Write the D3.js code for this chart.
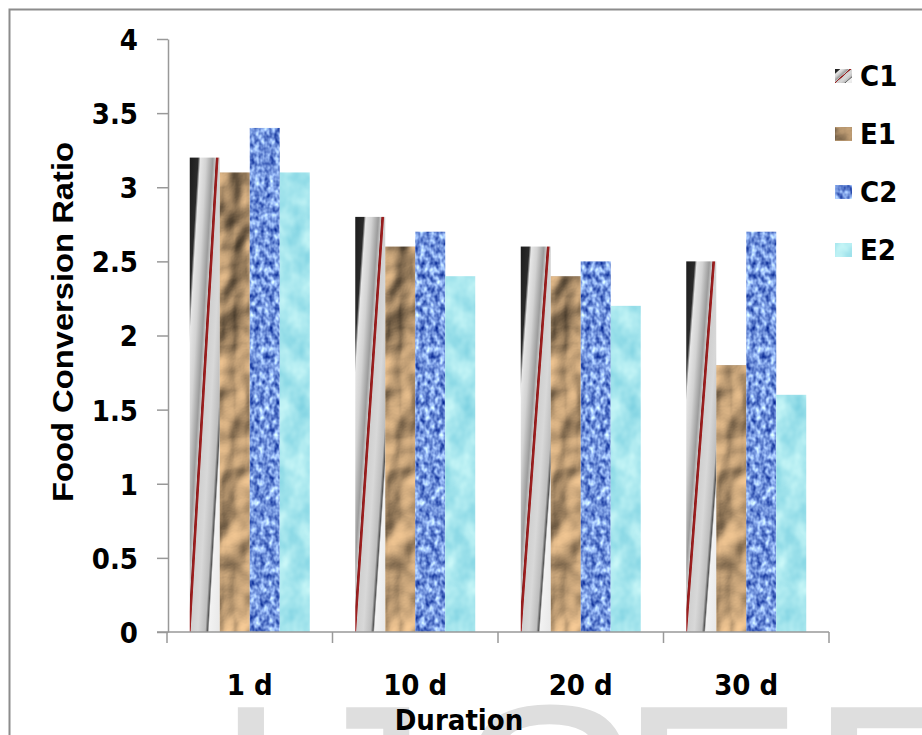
<!DOCTYPE html>
<meta charset="utf-8">
<style>
    html, body { margin: 0; background: #fff; }
    .tick text, .legend text, .title {
        font-family: "DejaVu Sans Condensed", "DejaVu Sans", sans-serif;
        font-weight: bold;
        fill: #000;
    }
    .axis path, .axis line { stroke: #999; stroke-width: 1.5px; }
    .ylabel {
        font-family: "Liberation Sans", Arial, sans-serif;
        font-weight: bold;
        font-size: 30px;
    }
    .mark {
        font-family: "Liberation Sans", Arial, sans-serif;
        font-size: 280px;
        fill: #dedede;
    }
</style>
<body>
<script src="https://d3js.org/d3.v7.min.js"></script>
<script>

    var categories = ["1 d", "10 d", "20 d", "30 d"];
    var series = ["C1", "E1", "C2", "E2"];
    var c1 = [3.2, 2.8, 2.6, 2.5];
    var e1 = [3.1, 2.6, 2.4, 1.8];
    var c2 = [3.4, 2.7, 2.5, 2.7];
    var e2 = [3.1, 2.4, 2.2, 1.6];
    var yTicks = [0, 0.5, 1, 1.5, 2, 2.5, 3, 3.5, 4];

    var width = 922,
        height = 735;

    var svg = d3.select("body").append("svg")
        .attr("width", width)
        .attr("height", height);

    var defs = svg.append("defs");

    // C1: slanted black / silver / red stripes, stretched to each bar
    var grad = defs.append("linearGradient")
        .attr("id", "fillC1")
        .attr("x1", 0).attr("y1", 0).attr("x2", 1.93).attr("y2", 0)
        .attr("gradientTransform", "skewX(-43)");
    [[0, "#1c1c1c"], [0.145, "#2a2a2a"], [0.185, "#e6e6e6"], [0.285, "#d2d2d2"],
     [0.40, "#9c9c9c"], [0.445, "#c6c6c6"], [0.458, "#8e1c1c"], [0.49, "#a02020"],
     [0.505, "#d0d0d0"], [0.62, "#d8d8d8"], [0.75, "#bdbdbd"], [0.79, "#555"],
     [0.815, "#f2f2f2"], [1, "#e8e8e8"]].forEach(function (s) {
        grad.append("stop").attr("offset", s[0]).attr("stop-color", s[1]);
    });

    // E1: crumpled paper
    var fPaper = defs.append("filter").attr("id", "paper")
        .attr("x", 0).attr("y", 0).attr("width", 1).attr("height", 1)
        .attr("color-interpolation-filters", "sRGB");
    fPaper.append("feTurbulence").attr("type", "fractalNoise")
        .attr("baseFrequency", "0.022 0.016").attr("numOctaves", 3).attr("seed", 7);
    fPaper.append("feDiffuseLighting").attr("surfaceScale", 10).attr("diffuseConstant", 1.15)
        .attr("lighting-color", "#e0b888").attr("result", "lit")
        .append("feDistantLight").attr("azimuth", 235).attr("elevation", 45);
    fPaper.append("feComposite").attr("in", "lit").attr("in2", "SourceGraphic").attr("operator", "in");

    // C2: blue woven cloth
    var fCloth = defs.append("filter").attr("id", "cloth")
        .attr("x", 0).attr("y", 0).attr("width", 1).attr("height", 1)
        .attr("color-interpolation-filters", "sRGB");
    fCloth.append("feTurbulence").attr("type", "fractalNoise")
        .attr("baseFrequency", "0.2 0.15").attr("numOctaves", 2).attr("seed", 3);
    fCloth.append("feColorMatrix").attr("type", "matrix")
        .attr("values", "1.2 0 0 0 -0.14  1.2 0 0 0 -0.01  0.8 0 0 0 0.47  0 0 0 0 1");
    fCloth.append("feComposite").attr("in2", "SourceGraphic").attr("operator", "in");

    // E2: light water drops
    var fWater = defs.append("filter").attr("id", "water")
        .attr("x", 0).attr("y", 0).attr("width", 1).attr("height", 1)
        .attr("color-interpolation-filters", "sRGB");
    fWater.append("feTurbulence").attr("type", "fractalNoise")
        .attr("baseFrequency", "0.05 0.04").attr("numOctaves", 3).attr("seed", 11);
    fWater.append("feColorMatrix").attr("type", "matrix")
        .attr("values", "0.4 0 0 0 0.45  0.2 0 0 0 0.8  0.12 0 0 0 0.87  0 0 0 0 1");
    fWater.append("feComposite").attr("in2", "SourceGraphic").attr("operator", "in");

    var styleOf = {
        C1: { fill: "url(#fillC1)", filter: null },
        E1: { fill: "#c8a070", filter: "url(#paper)" },
        C2: { fill: "#6484d4", filter: "url(#cloth)" },
        E2: { fill: "#a6e4ec", filter: "url(#water)" }
    };

    // watermark behind everything
    svg.append("text")
        .attr("class", "mark")
        .attr("x", "212 290 455 618 808")
        .attr("y", 900)
        .text("IJSER");

    // frame
    svg.append("rect")
        .attr("x", 9.5).attr("y", 9.5)
        .attr("width", 940).attr("height", 760)
        .attr("fill", "none")
        .attr("stroke", "#8c8c8c")
        .attr("stroke-width", 2);

    var y = d3.scaleLinear().domain([0, 4]).range([632, 39]);

    var x0 = d3.scaleBand()
        .domain(categories)
        .range([167, 829])
        .paddingInner(0.275)
        .paddingOuter(0.1375);

    var x1 = d3.scaleBand()
        .domain(series)
        .range([0, x0.bandwidth()]);

    var table = categories.map(function (c, i) {
        return { cat: c, vals: [
            { key: "C1", v: c1[i] }, { key: "E1", v: e1[i] },
            { key: "C2", v: c2[i] }, { key: "E2", v: e2[i] }] };
    });

    // y axis
    var yAxis = svg.append("g")
        .attr("class", "axis")
        .attr("transform", "translate(168,0)")
        .call(d3.axisLeft(y).tickValues(yTicks).tickSize(11).tickSizeOuter(0)
            .tickPadding(19).tickFormat(function (d) { return String(d); }));
    yAxis.selectAll(".tick text").style("font-size", "29px").attr("dy", "0.36em");

    // bars
    var groups = svg.append("g").selectAll("g")
        .data(table)
        .join("g")
        .attr("transform", function (d) { return "translate(" + x0(d.cat) + ",0)"; });

    groups.selectAll("rect")
        .data(function (d) { return d.vals; })
        .join("rect")
        .attr("x", function (d) { return x1(d.key); })
        .attr("y", function (d) { return y(d.v); })
        .attr("width", x1.bandwidth())
        .attr("height", function (d) { return y(0) - y(d.v); })
        .attr("fill", function (d) { return styleOf[d.key].fill; })
        .attr("filter", function (d) { return styleOf[d.key].filter; });

    // x axis: labels at band centres, ticks on the boundaries
    var xAxis = svg.append("g")
        .attr("class", "axis")
        .attr("transform", "translate(0,632)")
        .call(d3.axisBottom(x0).tickSize(0).tickPadding(42));
    xAxis.select(".domain").remove();
    xAxis.selectAll(".tick text").style("font-size", "29px");

    var bounds = categories.map(function (c) { return x0(c) - x0.step() * x0.paddingInner() / 2; });
    bounds.push(x0.range()[1]);
    xAxis.append("line")
        .attr("x1", 157).attr("x2", x0.range()[1])
        .attr("y1", 0).attr("y2", 0);
    xAxis.selectAll(".bound")
        .data(bounds)
        .join("line")
        .attr("class", "bound")
        .attr("x1", function (d) { return d; })
        .attr("x2", function (d) { return d; })
        .attr("y1", 0).attr("y2", 11);

    // axis titles
    svg.append("text")
        .attr("class", "ylabel")
        .attr("transform", "translate(73,322) rotate(-90)")
        .attr("text-anchor", "middle")
        .attr("textLength", 360)
        .attr("lengthAdjust", "spacingAndGlyphs")
        .text("Food Conversion Ratio");

    svg.append("text")
        .attr("class", "title")
        .attr("x", 459).attr("y", 730)
        .attr("text-anchor", "middle")
        .style("font-size", "29px")
        .text("Duration");

    // legend
    var legend = svg.append("g").attr("class", "legend")
        .selectAll("g")
        .data(series)
        .join("g")
        .attr("transform", function (d, i) { return "translate(835," + (76 + i * 58) + ")"; });

    legend.append("rect")
        .attr("x", 0).attr("y", -7)
        .attr("width", 17).attr("height", 14)
        .attr("fill", function (d) { return styleOf[d].fill; })
        .attr("filter", function (d) { return styleOf[d].filter; });

    legend.append("text")
        .attr("x", 25)
        .attr("dy", "0.36em")
        .style("font-size", "29px")
        .text(function (d) { return d; });

</script>
</body>
